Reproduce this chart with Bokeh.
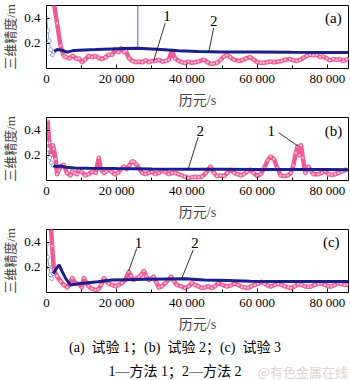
from bokeh.plotting import figure
from bokeh.models import Range1d, FixedTicker, Div, ColumnDataSource
from bokeh.layouts import column
from bokeh.core.properties import value
from bokeh.embed import file_html
from bokeh.resources import INLINE

# ---------------- data ----------------
x_ticks = [0, 20000, 40000, 60000, 80000]
x_tick_labels = ["0", "20 000", "40 000", "60 000", "80 000"]
x_minor = [10000, 30000, 50000, 70000]
y_ticks = [0.2, 0.4]
y_tick_labels = ["0.2", "0.4"]

# panel (a)
a_m1_x = [1500, 2100, 3000, 4000, 4900, 5500, 6500, 7500, 8500, 9300,
          10100, 11000, 12000, 13000, 13900, 14800, 15800, 16800, 17700, 18700,
          19700, 20500, 21300, 22100, 22600, 23500, 24500, 25400, 26300, 27300,
          28200, 29200, 30000, 31000, 32000, 33000, 34000, 34800, 35700, 36600,
          37600, 38500, 39400, 40400, 41400, 42300, 43200, 44800, 45800, 46800,
          47600, 48600, 49600, 50500, 51400, 52300, 53300, 54700, 55800, 56800,
          58000, 59000, 60000, 61000, 61800, 62800, 63800, 64800, 66000, 67000,
          68000, 69400, 70300, 71300, 72200, 73200, 74100, 75000, 76000, 77000,
          77900, 78800, 79800, 80700, 81700, 82600, 83500, 84500, 85400, 86000]
a_m1_y = [0.9, 0.52, 0.36, 0.18, 0.10, 0.09, 0.08, 0.10, 0.075, 0.08,
          0.05, 0.07, 0.10, 0.09, 0.10, 0.085, 0.075, 0.09, 0.11, 0.11,
          0.15, 0.13, 0.16, 0.13, 0.14, 0.08, 0.06, 0.05, 0.055, 0.05,
          0.065, 0.05, 0.06, 0.06, 0.07, 0.055, 0.06, 0.07, 0.14, 0.08,
          0.06, 0.05, 0.045, 0.055, 0.045, 0.05, 0.055, 0.07, 0.05, 0.035,
          0.04, 0.045, 0.07, 0.095, 0.105, 0.09, 0.07, 0.06, 0.065, 0.08,
          0.09, 0.07, 0.05, 0.045, 0.045, 0.05, 0.055, 0.05, 0.055, 0.06,
          0.07, 0.075, 0.065, 0.06, 0.07, 0.085, 0.10, 0.11, 0.105, 0.11,
          0.09, 0.095, 0.08, 0.065, 0.075, 0.07, 0.075, 0.06, 0.07, 0.08]
a_m2_start_x = [0, 400, 800, 1200, 1700, 2200]
a_m2_start_y = [0.40, 0.30, 0.22, 0.15, 0.11, 0.135]
a_m2_x = [2200, 3000, 4400, 5900, 7300, 9200, 14000, 18600, 22000, 25900,
          30000, 32600, 37600, 43200, 50000, 60000, 70000, 80000, 86000]
a_m2_y = [0.135, 0.15, 0.145, 0.13, 0.14, 0.145, 0.15, 0.155, 0.158, 0.16,
          0.155, 0.15, 0.14, 0.135, 0.13, 0.13, 0.128, 0.127, 0.126]
a_spike_x = [26000, 26000]
a_spike_y = [0.16, 0.6]

# panel (b)
b_m1_x = [300, 800, 1300, 1800, 2100, 2600, 3000, 3500, 4000, 4900,
          5800, 6800, 7300, 8000, 8700, 9200, 10000, 11000, 12000, 13000,
          14000, 14900, 15500, 16300, 17000, 17700, 18500, 19400, 20300, 21200,
          22000, 22800, 23600, 24300, 24800, 25500, 26300, 27200, 28200, 29100,
          30000, 31000, 32000, 32900, 33800, 34800, 35800, 36700, 37600, 38500,
          39400, 40400, 41400, 42300, 43300, 44300, 45400, 46700, 47700, 48600,
          49600, 50500, 51500, 52400, 53400, 54400, 55300, 56200, 57100, 58000,
          59000, 60000, 61000, 62000, 63000, 63800, 64800, 65700, 66700, 67700,
          68700, 69600, 70300, 71000, 71500, 72000, 72500, 73000, 73700, 74600,
          75300, 76000, 77400, 78400, 79300, 80300, 81200, 82200, 83100, 84000,
          84800, 85600]
b_m1_y = [0.48, 0.30, 0.20, 0.28, 0.25, 0.17, 0.05, 0.08, 0.11, 0.125,
          0.06, 0.04, 0.07, 0.06, 0.05, 0.085, 0.07, 0.04, 0.05, 0.07,
          0.06, 0.18, 0.09, 0.06, 0.07, 0.09, 0.07, 0.05, 0.06, 0.09,
          0.11, 0.09, 0.12, 0.15, 0.15, 0.13, 0.10, 0.06, 0.05, 0.06,
          0.07, 0.05, 0.06, 0.08, 0.07, 0.05, 0.06, 0.06, 0.05, 0.04,
          0.03, 0.02, 0.025, 0.03, 0.025, 0.03, 0.06, 0.11, 0.06, 0.035,
          0.04, 0.035, 0.06, 0.085, 0.06, 0.05, 0.04, 0.05, 0.07, 0.085,
          0.06, 0.035, 0.05, 0.10, 0.16, 0.19, 0.17, 0.10, 0.04, 0.035,
          0.04, 0.06, 0.12, 0.22, 0.27, 0.20, 0.28, 0.18, 0.06, 0.11,
          0.08, 0.05, 0.05, 0.06, 0.075, 0.05, 0.045, 0.05, 0.06, 0.07,
          0.08, 0.09]
b_m2_start_x = [0, 400, 900, 1400, 2000]
b_m2_start_y = [0.30, 0.25, 0.18, 0.14, 0.12]
b_m2_x = [2000, 2600, 4000, 5400, 8000, 12000, 20000, 30000, 40000, 50000,
          60000, 70000, 80000, 86000]
b_m2_y = [0.12, 0.11, 0.115, 0.105, 0.10, 0.098, 0.095, 0.092, 0.09, 0.09,
          0.088, 0.088, 0.087, 0.086]

# panel (c)
c_m1_x = [1100, 1600, 2100, 3000, 4000, 4900, 5900, 6600, 7300, 8300,
          9200, 10100, 10600, 11300, 12000, 12900, 13900, 14800, 15600, 16300,
          17000, 17700, 18600, 19600, 20500, 21500, 22500, 23400, 24100, 24800,
          25500, 26300, 27000, 27700, 28400, 29100, 29800, 30500, 31300, 32000,
          32900, 33800, 34700, 35500, 36300, 37100, 38300, 39500, 40500, 41400,
          42300, 43200, 44200, 45100, 46100, 47000, 48000, 48900, 50100, 51300,
          52400, 53500, 54600, 55600, 56500, 57400, 58300, 59300, 60200, 61200,
          62100, 63000, 64000, 65000, 65900, 66900, 67800, 68800, 69700, 70700,
          71700, 72600, 73500, 74500, 75400, 76400, 77400, 78300, 79300, 80200,
          81100, 82000, 83000, 83900, 84900, 85800]
c_m1_y = [0.6, 0.37, 0.18, 0.13, 0.09, 0.06, 0.04, 0.07, 0.115, 0.07,
          0.07, 0.04, 0.115, 0.08, 0.05, 0.03, 0.02, 0.025, 0.06, 0.115,
          0.09, 0.07, 0.06, 0.05, 0.06, 0.075, 0.10, 0.165, 0.13, 0.10,
          0.11, 0.125, 0.14, 0.17, 0.13, 0.10, 0.11, 0.125, 0.08, 0.04,
          0.05, 0.075, 0.10, 0.125, 0.09, 0.06, 0.05, 0.035, 0.05, 0.075,
          0.06, 0.05, 0.035, 0.04, 0.05, 0.035, 0.05, 0.075, 0.06, 0.048,
          0.055, 0.07, 0.06, 0.045, 0.04, 0.035, 0.05, 0.06, 0.07, 0.085,
          0.07, 0.055, 0.048, 0.06, 0.07, 0.06, 0.05, 0.04, 0.035, 0.05,
          0.065, 0.061, 0.05, 0.045, 0.048, 0.06, 0.07, 0.075, 0.06, 0.05,
          0.048, 0.06, 0.075, 0.07, 0.06, 0.061]
c_m2_start_x = [0, 300, 700, 1100, 1500, 1900]
c_m2_start_y = [0.38, 0.28, 0.20, 0.14, 0.11, 0.15]
c_m2_x = [1900, 2800, 3600, 4400, 5500, 6800, 9000, 11100, 14700, 18600,
          22000, 28100, 34000, 39500, 45000, 51800, 58000, 66000, 75000, 86000]
c_m2_y = [0.15, 0.19, 0.22, 0.17, 0.11, 0.06, 0.07, 0.075, 0.085, 0.10,
          0.102, 0.105, 0.108, 0.11, 0.10, 0.095, 0.09, 0.088, 0.088, 0.088]

# annotations: label text, label position, leader line (from -> to)
a_labels = ["1", "2", "(a)"]
a_label_x = [34300, 47600, 81700]
a_label_y = [0.415, 0.38, 0.40]
a_lead_x0 = [33800, 47600]
a_lead_y0 = [0.36, 0.32]
a_lead_x1 = [30500, 46200]
a_lead_y1 = [0.06, 0.13]

b_labels = ["1", "2", "(b)"]
b_label_x = [64000, 43800, 81700]
b_label_y = [0.39, 0.39, 0.39]
b_lead_x0 = [66100, 43200]
b_lead_y0 = [0.38, 0.345]
b_lead_x1 = [71800, 40400]
b_lead_y1 = [0.27, 0.095]

c_labels = ["1", "2", "(c)"]
c_label_x = [26200, 42300, 81100]
c_label_y = [0.39, 0.39, 0.40]
c_lead_x0 = [25700, 41800]
c_lead_y0 = [0.35, 0.34]
c_lead_x1 = [23400, 38500]
c_lead_y1 = [0.17, 0.11]

PINK = "#ee5a98"
PINK_DOT = "#f8b4d0"
NAVY = "#1b1f8a"
LIGHT_BLUE = "#8494d6"
SERIF = "Liberation Serif, Noto Sans CJK SC"


def pair(xs, ys):
    n = min(len(xs), len(ys))
    return ColumnDataSource(dict(x=xs[:n], y=ys[:n]))


def panel(m1x, m1y, m2sx, m2sy, m2x, m2y, labels, lx, ly, l0x, l0y, l1x, l1y,
          spike=None):
    p = figure(width=350, height=112, output_backend="svg", toolbar_location=None,
               x_range=Range1d(0, 86000), y_range=Range1d(0, 0.5),
               min_border_left=45, min_border_right=2, min_border_top=5,
               min_border_bottom=44, background_fill_color="white",
               border_fill_color="white")
    p.grid.visible = False
    p.outline_line_color = "black"
    p.outline_line_width = 1
    p.outline_line_alpha = 1

    xa = p.xaxis[0]
    xa.ticker = FixedTicker(ticks=x_ticks, minor_ticks=x_minor)
    xa.major_label_overrides = {t: l for t, l in zip(x_ticks, x_tick_labels)}
    xa.major_tick_in = 4
    xa.major_tick_out = 0
    xa.minor_tick_in = 3
    xa.minor_tick_out = 0
    xa.major_label_standoff = 2
    xa.major_label_text_font = SERIF
    xa.major_label_text_font_size = "13px"
    xa.major_label_text_color = "black"
    xa.axis_label = "历元/s"
    xa.axis_label_text_font = SERIF
    xa.axis_label_text_font_size = "14px"
    xa.axis_label_text_font_style = "normal"
    xa.axis_label_standoff = 4
    xa.axis_line_color = "black"

    ya = p.yaxis[0]
    ya.ticker = FixedTicker(ticks=y_ticks, minor_ticks=[])
    ya.major_label_overrides = {t: l for t, l in zip(y_ticks, y_tick_labels)}
    ya.major_tick_in = 3
    ya.major_tick_out = 0
    ya.minor_tick_in = 0
    ya.minor_tick_out = 0
    ya.major_label_standoff = 6
    ya.major_label_text_font = SERIF
    ya.major_label_text_font_size = "13px"
    ya.major_label_text_color = "black"
    ya.axis_label = "三维精度/m"
    ya.axis_label_text_font = SERIF
    ya.axis_label_text_font_size = "13px"
    ya.axis_label_text_font_style = "normal"
    ya.axis_label_standoff = 3
    ya.axis_line_color = "black"

    # method 1 (pink band)
    s1 = pair(m1x, m1y)
    p.line("x", "y", source=s1, line_color=PINK, line_width=4.5, line_join="round")
    p.scatter("x", "y", source=s1, size=2.5, marker="circle", line_color=None,
              fill_color=PINK_DOT)

    # method 2 start (light blue)
    s2s = pair(m2sx, m2sy)
    p.line("x", "y", source=s2s, line_color=LIGHT_BLUE, line_width=1)
    p.scatter("x", "y", source=s2s, size=4, marker="circle", line_color=LIGHT_BLUE,
              fill_color="white", line_width=0.8)
    if spike is not None:
        p.line(spike[0], spike[1], line_color="#5060b8", line_width=1)

    # method 2 (navy)
    s2 = pair(m2x, m2y)
    p.line("x", "y", source=s2, line_color=NAVY, line_width=3)

    # leader lines and labels
    p.segment(x0=l0x, y0=l0y, x1=l1x, y1=l1y, line_color="black", line_width=0.8)
    p.text(x=lx, y=ly, text=labels, text_font=value("Liberation Serif"),
           text_font_size="15px", text_align="center", text_baseline="middle",
           text_color="black")
    return p


pa = panel(a_m1_x, a_m1_y, a_m2_start_x, a_m2_start_y, a_m2_x, a_m2_y,
           a_labels, a_label_x, a_label_y, a_lead_x0, a_lead_y0, a_lead_x1, a_lead_y1,
           spike=(a_spike_x, a_spike_y))
pb = panel(b_m1_x, b_m1_y, b_m2_start_x, b_m2_start_y, b_m2_x, b_m2_y,
           b_labels, b_label_x, b_label_y, b_lead_x0, b_lead_y0, b_lead_x1, b_lead_y1)
pc = panel(c_m1_x, c_m1_y, c_m2_start_x, c_m2_start_y, c_m2_x, c_m2_y,
           c_labels, c_label_x, c_label_y, c_lead_x0, c_lead_y0, c_lead_x1, c_lead_y1)

caption = Div(
    text=('<div style="text-align:center;font-family:\'Liberation Serif\',\'Noto Sans CJK SC\';'
          'font-size:14px;line-height:24px;color:black;position:relative;width:350px;">'
          '(a)&nbsp; 试验 1；(b)&nbsp; 试验 2；(c)&nbsp; 试验 3<br>'
          '1—方法 1；2—方法 2'
          '<span style="position:absolute;right:2px;bottom:0px;color:#e2d2d2;'
          'font-family:\'Noto Sans CJK SC\';font-size:13px;">@有色金属在线</span>'
          '</div>'),
    width=350, height=44, margin=(0, 0, 0, 0))

layout = column(pa, pb, pc, caption, spacing=0)
open("out.html", "w").write(file_html(layout, INLINE))
